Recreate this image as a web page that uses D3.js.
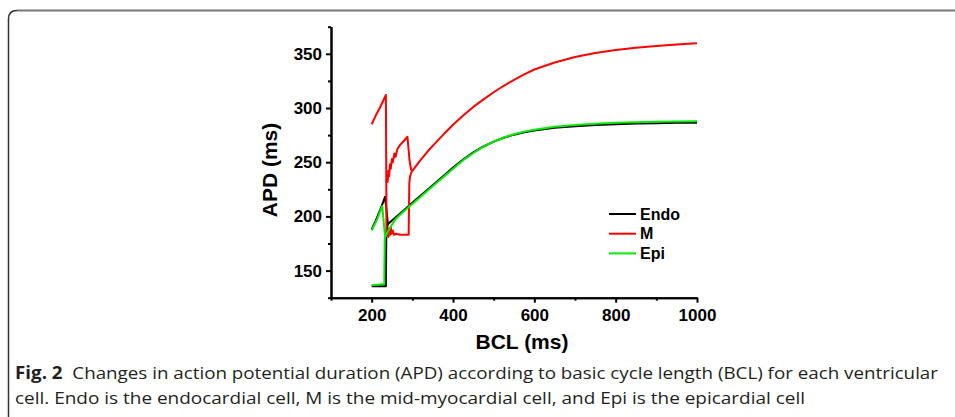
<!DOCTYPE html>
<html>
<head>
<meta charset="utf-8">
<script src="https://cdn.jsdelivr.net/npm/d3@7"></script>
<style>
  body { margin: 0; background: #fff; }
  svg { display: block; }
  .axis text { font-family: "Liberation Sans", Arial, sans-serif; font-weight: bold; font-size: 17px; fill: #000; }
  .axis path, .axis line { stroke: #000; stroke-width: 2px; }
</style>
</head>
<body>
<div id="chart"></div>
<script>
var width = 955;
var height = 417;

// x range of the plot, y range of the plot
var plotLeft = 331, plotRight = 697, plotTop = 26.7, plotBottom = 297.7;

// data (BCL in ms, APD in ms)
const curveBCL = [300, 320, 340, 360, 380, 400, 425, 450, 475, 500, 525, 550, 575, 600, 650, 700, 750, 800, 850, 900, 950, 1000];
const endoAPD  = [212.5, 219, 225.5, 232, 238.5, 245, 252.5, 259, 264.5, 269, 272.6, 275.4, 277.6, 279.3, 281.7, 283.2, 284.3, 285.1, 285.6, 286, 286.3, 286.5];
const epiAPD   = [211.5, 218, 224.5, 231, 237.5, 244, 251.8, 258.5, 264.3, 269, 272.8, 275.8, 278.2, 280, 282.6, 284.3, 285.5, 286.3, 286.9, 287.3, 287.6, 287.8];
const mAPD     = [242, 252, 261, 269, 277, 284.5, 293, 301, 308, 314.5, 320.5, 326, 331, 335.5, 342, 347, 350.8, 353.5, 355.5, 357.3, 358.6, 359.7];

// short BCL region, two branches per cell
const endoUpper = [[200, 188], [210, 196], [220, 205], [233, 218], [240, 193], [260, 199.5], [280, 206], [300, 212.5]];
const endoLower = [[200, 135.5], [225, 135.5], [235, 135.5], [236, 186], [240, 193]];
const epiUpper  = [[200, 187], [213, 197], [226, 209.6], [233, 181], [240, 186], [250, 192.5], [260, 198], [280, 205], [300, 211.5]];
const epiLower  = [[200, 136.5], [228, 137.5], [231, 137.5], [232, 178], [233, 181]];
const mUpper    = [[200, 285], [210, 293], [220, 300], [235, 312], [236.5, 182], [239, 187], [241, 181], [243, 189], [245, 183],
                   [247, 190], [249, 184], [252, 187], [255, 183], [260, 184], [270, 183], [280, 183], [291, 183],
                   [292.5, 230], [294, 236], [297, 240], [300, 242]];
const mLower    = [[237, 231], [238, 238], [239.5, 232], [241, 242], [243, 237], [245, 248], [247, 244], [250, 253],
                   [252, 250], [256, 258], [259, 255], [263, 262], [270, 266], [280, 270], [288, 273.5], [293, 252], [297, 243], [300, 242]];

const seriesNames  = ["Endo", "M", "Epi"];
const seriesColors = ["#000000", "#ff0000", "#00ee00"];

const xMajorTicks = [200, 400, 600, 800, 1000];
const xMinorTicks = [100, 300, 500, 700, 900];
const yMajorTicks = [150, 200, 250, 300, 350];
const yMinorTicks = [125, 175, 225, 275, 325, 375];

const captionLine1Bold = "Fig. 2";
const captionLine1 = "Changes in action potential duration (APD) according to basic cycle length (BCL) for each ventricular";
const captionLine2 = "cell. Endo is the endocardial cell, M is the mid-myocardial cell, and Epi is the epicardial cell";

var svg = d3.select("#chart").append("svg")
    .attr("width", width)
    .attr("height", height);

// figure frame (rounded top-left corner)
svg.append("path")
    .attr("d", "M8.5,417 L8.5,19 Q8.5,10.5 17,10.5")
    .attr("fill", "none")
    .attr("stroke", "#333")
    .attr("stroke-width", 1.5);
svg.append("path")
    .attr("d", "M17,10.5 L955,10.5")
    .attr("fill", "none")
    .attr("stroke", "#777")
    .attr("stroke-width", 2);

var x = d3.scaleLinear().domain([100, 1000]).range([plotLeft, plotRight]);
var y = d3.scaleLinear().domain([125, 375]).range([plotBottom, plotTop]);

// minor ticks first
svg.append("g")
    .attr("class", "axis")
    .attr("transform", `translate(0, ${plotBottom})`)
    .call(d3.axisBottom(x).tickValues(xMinorTicks).tickSize(3).tickSizeOuter(0).tickFormat(""));
svg.append("g")
    .attr("class", "axis")
    .attr("transform", `translate(${plotLeft}, 0)`)
    .call(d3.axisLeft(y).tickValues(yMinorTicks).tickSize(3).tickSizeOuter(0).tickFormat(""));

svg.append("g")
    .attr("class", "axis")
    .attr("transform", `translate(0, ${plotBottom})`)
    .call(d3.axisBottom(x).tickValues(xMajorTicks).tickSize(5).tickPadding(6).tickSizeOuter(0).tickFormat(d3.format("d")));
svg.append("g")
    .attr("class", "axis")
    .attr("transform", `translate(${plotLeft}, 0)`)
    .call(d3.axisLeft(y).tickValues(yMajorTicks).tickSize(5).tickPadding(4).tickSizeOuter(0).tickFormat(d3.format("d")));

// axis titles
svg.append("text")
    .attr("x", 522)
    .attr("y", 349)
    .attr("text-anchor", "middle")
    .style("font-family", "'Liberation Sans', Arial, sans-serif")
    .style("font-weight", "bold")
    .style("font-size", "21px")
    .text("BCL (ms)");
svg.append("text")
    .attr("transform", "translate(277, 170) rotate(-90)")
    .attr("text-anchor", "middle")
    .style("font-family", "'Liberation Sans', Arial, sans-serif")
    .style("font-weight", "bold")
    .style("font-size", "21px")
    .text("APD (ms)");

var line = d3.line()
    .x(d => x(d[0]))
    .y(d => y(d[1]));

function curve(apd) {
    return curveBCL.map((b, i) => [b, apd[i]]);
}

var paths = [
    { color: seriesColors[0], pts: endoLower },
    { color: seriesColors[0], pts: endoUpper.concat(curve(endoAPD).slice(1)) },
    { color: seriesColors[1], pts: mLower },
    { color: seriesColors[1], pts: mUpper.concat(curve(mAPD).slice(1)) },
    { color: seriesColors[2], pts: epiLower },
    { color: seriesColors[2], pts: epiUpper.concat(curve(epiAPD).slice(1)) }
];

svg.selectAll(".series")
    .data(paths)
    .enter()
    .append("path")
    .attr("class", "series")
    .attr("fill", "none")
    .attr("stroke", d => d.color)
    .attr("stroke-width", 2)
    .attr("stroke-linejoin", "round")
    .attr("d", d => line(d.pts));

// legend
var legend = svg.selectAll(".legend")
    .data(seriesNames)
    .enter()
    .append("g")
    .attr("class", "legend")
    .attr("transform", (d, i) => `translate(609, ${214 + i * 19.7})`);

legend.append("line")
    .attr("x1", 0).attr("x2", 27)
    .attr("stroke", (d, i) => seriesColors[i])
    .attr("stroke-width", 2);

legend.append("text")
    .attr("x", 31)
    .attr("dy", "0.36em")
    .style("font-family", "'Liberation Sans', Arial, sans-serif")
    .style("font-weight", "bold")
    .style("font-size", "16px")
    .text(d => d);

// caption
var cap1 = svg.append("text")
    .attr("x", 15)
    .attr("y", 379)
    .attr("textLength", 923)
    .attr("lengthAdjust", "spacingAndGlyphs")
    .style("font-family", "'Open Sans', sans-serif")
    .style("font-size", "17px")
    .style("fill", "#231f20");
cap1.append("tspan").style("font-weight", "bold").text(captionLine1Bold);
cap1.append("tspan").text("\u00a0\u00a0" + captionLine1);

svg.append("text")
    .attr("x", 15)
    .attr("y", 404)
    .attr("textLength", 790)
    .attr("lengthAdjust", "spacingAndGlyphs")
    .style("font-family", "'Open Sans', sans-serif")
    .style("font-size", "17px")
    .style("fill", "#231f20")
    .text(captionLine2);
</script>
</body>
</html>
